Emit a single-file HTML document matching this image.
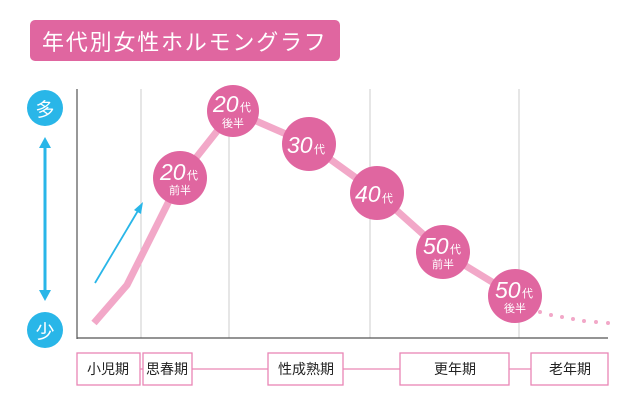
<!DOCTYPE html>
<html><head><meta charset="utf-8"><style>
body{margin:0;width:640px;height:404px;background:#fff;overflow:hidden;font-family:"Liberation Sans","Noto Sans CJK JP",sans-serif}
</style></head><body>
<svg width="640" height="404" xmlns="http://www.w3.org/2000/svg" style="font-family:'Liberation Sans','Noto Sans CJK JP',sans-serif">
<rect x="30" y="20" width="310" height="41" rx="5" fill="#e066a0"/>
<text x="42" y="50" font-size="22" fill="#fff" letter-spacing="1.8">年代別女性ホルモングラフ</text>
<g stroke="#ccc" stroke-width="1">
<line x1="141" y1="89" x2="141" y2="338"/><line x1="229" y1="89" x2="229" y2="338"/>
<line x1="370" y1="89" x2="370" y2="338"/><line x1="519" y1="89" x2="519" y2="338"/>
</g>
<line x1="77" y1="89" x2="77" y2="339" stroke="#777" stroke-width="1.5"/>
<line x1="77" y1="338" x2="608" y2="338" stroke="#555" stroke-width="1.2"/>
<polyline points="94,323 127,285 167,205 180,178 233,111 309,144 377,193 443,252 515,296" fill="none" stroke="#f2a8c8" stroke-width="7" stroke-linejoin="round"/>
<g fill="#f2a8c8"><circle cx="540" cy="312" r="2"/><circle cx="551" cy="315" r="2"/><circle cx="562" cy="317" r="2"/><circle cx="573" cy="319" r="2"/><circle cx="584" cy="321" r="2"/><circle cx="596" cy="322" r="2"/><circle cx="608" cy="323" r="2"/></g>
<line x1="95" y1="283" x2="139" y2="209" stroke="#29b6e8" stroke-width="1.8"/>
<polygon points="143,202 141,214 134,210" fill="#29b6e8"/>
<line x1="45" y1="146" x2="45" y2="292" stroke="#29b6e8" stroke-width="3"/>
<polygon points="45,137 39,148 51,148" fill="#29b6e8"/><polygon points="45,301 39,290 51,290" fill="#29b6e8"/>
<circle cx="45" cy="108" r="18" fill="#29b6e8"/><text x="45" y="116" font-size="19" fill="#fff" text-anchor="middle">多</text>
<circle cx="45" cy="330" r="18" fill="#29b6e8"/><text x="45" y="338" font-size="19" fill="#fff" text-anchor="middle">少</text>
<g fill="#e066a0">
<circle cx="180" cy="178" r="27"/><circle cx="233" cy="111" r="26"/><circle cx="309" cy="144" r="27"/>
<circle cx="377" cy="193" r="27"/><circle cx="443" cy="252" r="27"/><circle cx="515" cy="296" r="27"/>
</g>
<g fill="#fff" font-style="italic" font-size="23">
<text x="160" y="180">20</text><text x="213" y="112">20</text><text x="287" y="153">30</text>
<text x="355" y="202">40</text><text x="423" y="254">50</text><text x="495" y="298">50</text>
</g>
<g fill="#fff" font-size="11">
<text x="187" y="179">代</text><text x="240" y="111">代</text><text x="314" y="153">代</text>
<text x="382" y="202">代</text><text x="450" y="253">代</text><text x="522" y="297">代</text>
<text x="180" y="194" text-anchor="middle">前半</text><text x="233" y="127" text-anchor="middle">後半</text>
<text x="443" y="268" text-anchor="middle">前半</text><text x="515" y="312" text-anchor="middle">後半</text>
</g>
<g stroke="#e986b5" stroke-width="1.3" fill="#fff">
<line x1="140" y1="369" x2="143" y2="369"/><line x1="192" y1="369" x2="268" y2="369"/>
<line x1="343" y1="369" x2="400" y2="369"/><line x1="509" y1="369" x2="531" y2="369"/>
<rect x="77" y="353" width="63" height="32"/><rect x="143" y="353" width="49" height="32"/>
<rect x="268" y="353" width="75" height="32"/><rect x="400" y="353" width="109" height="32"/>
<rect x="531" y="353" width="77" height="32"/>
</g>
<g font-size="14" fill="#222" text-anchor="middle">
<text x="108" y="374">小児期</text><text x="167" y="374">思春期</text><text x="306" y="374">性成熟期</text>
<text x="455" y="374">更年期</text><text x="570" y="374">老年期</text>
</g>
</svg>
</body></html>
